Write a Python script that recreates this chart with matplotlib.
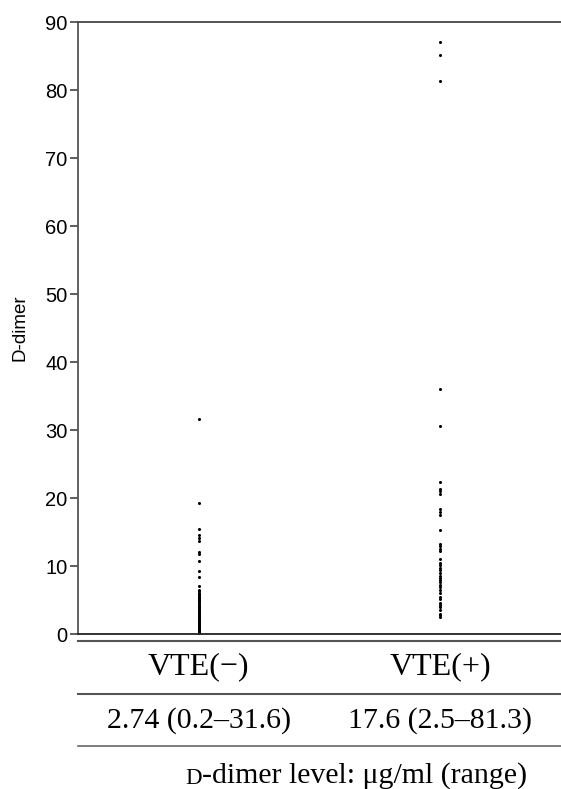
import numpy as np
import matplotlib
matplotlib.use("Agg")
import matplotlib.pyplot as plt
from matplotlib.lines import Line2D

# D-dimer values (ug/ml)
vte_neg = [31.6, 19.2, 15.5, 14.6, 14.1, 13.7, 12.1, 11.7, 10.7, 9.3, 8.4, 7.1,
           6.4, 6.3, 6.1, 5.9, 5.8, 5.6, 5.5, 5.3, 5.1, 5.0, 4.8, 4.6, 4.5, 4.3,
           4.1, 4.0, 3.8, 3.6, 3.5, 3.3, 3.2, 3.0, 2.9, 2.7, 2.6, 2.4, 2.3, 2.1,
           2.0, 1.9, 1.7, 1.6, 1.5, 1.3, 1.2, 1.1, 1.0, 0.9, 0.8, 0.7, 0.6, 0.5,
           0.4, 0.3, 0.2]
vte_pos = [87.1, 85.1, 81.3, 36.0, 30.6, 22.3, 21.3, 21.0, 20.6, 18.4, 18.0,
           17.5, 15.3, 13.2, 12.9, 12.5, 12.2, 11.1, 10.4, 10.1, 9.75, 9.4, 9.0,
           8.6, 8.3, 7.9, 7.6, 7.2, 6.9, 6.4, 6.0, 5.5, 5.2, 4.6, 4.3, 3.9, 3.6,
           3.0, 2.75, 2.5]

groups = ["VTE(\u2212)", "VTE(+)"]
summary = ["2.74 (0.2\u201331.6)", "17.6 (2.5\u201381.3)"]
yticks = [0, 10, 20, 30, 40, 50, 60, 70, 80, 90]

W, H = 561, 789
fig = plt.figure(figsize=(W / 100, H / 100), dpi=100)
ax = fig.add_axes([78 / W, 1 - 634 / H, 1 - 78 / W, (634 - 22) / H])

for i, vals in enumerate([vte_neg, vte_pos]):
    ax.plot(np.full(len(vals), i + 1), vals, 'o', color='black', ms=2.2, mew=0)

ax.set_xlim(0.5, 2.5)
ax.set_ylim(0, 90)
ax.set_yticks(yticks)
ax.set_xticks([])
ax.tick_params(axis='y', labelsize=14.5, length=5.5, width=1.2, color='#444444', pad=2)
for lab in ax.get_yticklabels():
    lab.set_fontfamily('Liberation Sans')
ax.set_ylabel("D-dimer", fontsize=13.5, family='Liberation Sans', labelpad=12)

ax.spines['right'].set_visible(False)
ax.spines['left'].set_color('#555555')
ax.spines['top'].set_color('#444444')
ax.spines['bottom'].set_color('#222222')
for s in ['left', 'top', 'bottom']:
    ax.spines[s].set_linewidth(1.3)

# table lines below the plot
def hline(ypix, lw=1.5, color='#555555'):
    y = 1 - ypix / H
    fig.add_artist(Line2D([78 / W, 1], [y, y], transform=fig.transFigure,
                          color=color, lw=lw))

hline(641)
hline(694)
hline(746, lw=1.2, color='#666666')

serif = 'Liberation Serif'
for i, (g, s) in enumerate(zip(groups, summary)):
    xf = fig.transFigure.inverted().transform(ax.transData.transform((i + 1, 0)))[0]
    fig.text(xf, 1 - 667 / H, g, ha='center', va='center', fontsize=23, family=serif)
    fig.text(xf, 1 - 721 / H, s, ha='center', va='center', fontsize=21.5, family=serif)

# small-caps D then rest of footer
fx = 202 / W
fig.text(fx, 1 - 778 / H, "D", ha='right', va='center', fontsize=16.5, family=serif)
fig.text(fx, 1 - 776 / H, "-dimer level: \u03bcg/ml (range)", ha='left', va='center',
         fontsize=21.5, family=serif)

fig.savefig("out.png", dpi=100)
